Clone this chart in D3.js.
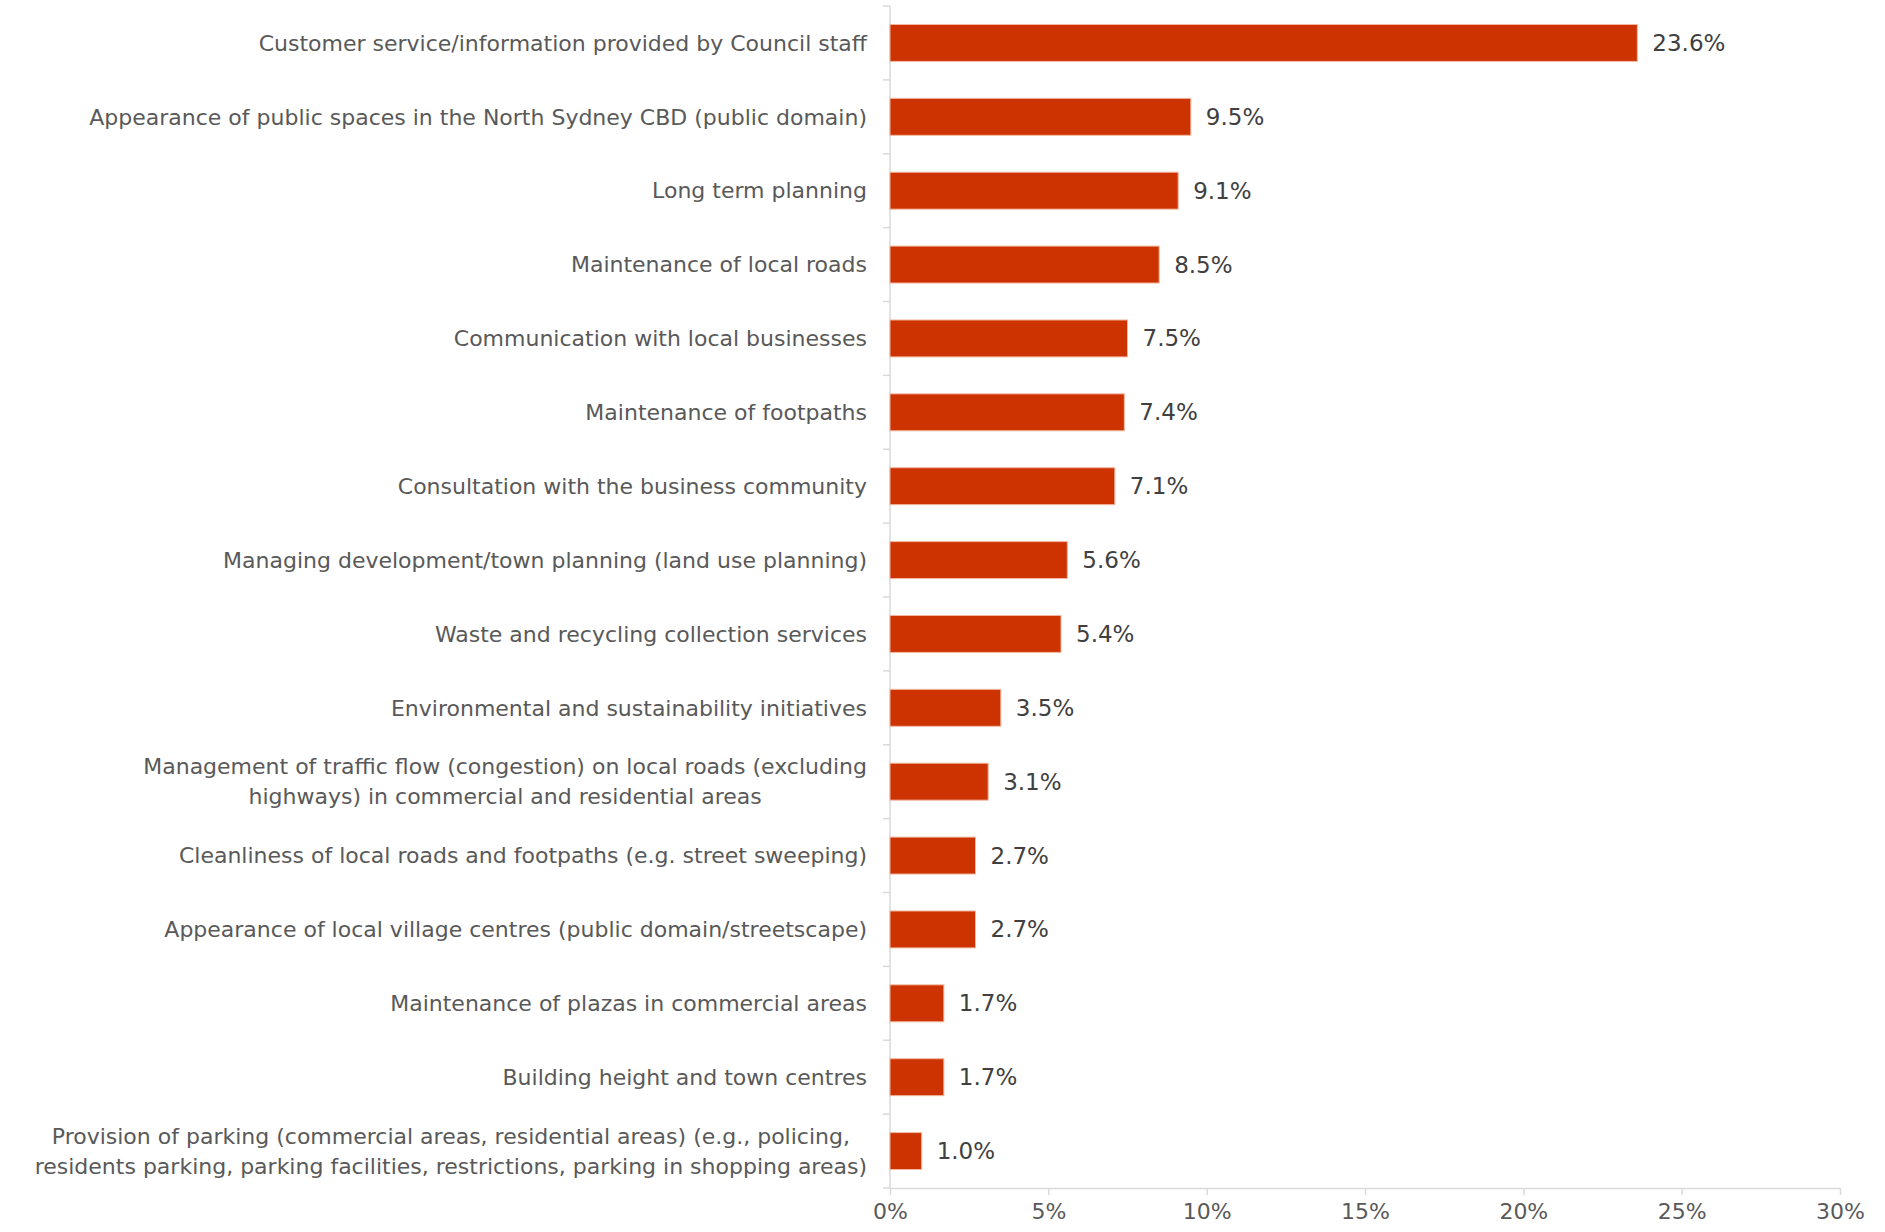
<!DOCTYPE html>
<html>
<head>
<meta charset="utf-8">
<script src="https://cdn.jsdelivr.net/npm/d3@7"></script>
<style>
  body { margin: 0; background: #fff; }
  text { font-family: "DejaVu Sans", sans-serif; }
</style>
</head>
<body>
<script>
const categories = [
    ["Customer service/information provided by Council staff"],
    ["Appearance of public spaces in the North Sydney CBD (public domain)"],
    ["Long term planning"],
    ["Maintenance of local roads"],
    ["Communication with local businesses"],
    ["Maintenance of footpaths"],
    ["Consultation with the business community"],
    ["Managing development/town planning (land use planning)"],
    ["Waste and recycling collection services"],
    ["Environmental and sustainability initiatives"],
    ["Management of traffic flow (congestion) on local roads (excluding", "highways) in commercial and residential areas"],
    ["Cleanliness of local roads and footpaths (e.g. street sweeping)"],
    ["Appearance of local village centres (public domain/streetscape)"],
    ["Maintenance of plazas in commercial areas"],
    ["Building height and town centres"],
    ["Provision of parking (commercial areas, residential areas) (e.g., policing,", "residents parking, parking facilities, restrictions, parking in shopping areas)"]
];
const values = [23.6, 9.5, 9.1, 8.5, 7.5, 7.4, 7.1, 5.6, 5.4, 3.5, 3.1, 2.7, 2.7, 1.7, 1.7, 1.0];
const xTicks = [0, 5, 10, 15, 20, 25, 30];

const margin = {top: 6, right: 45, bottom: 44, left: 890},
    width = 1885 - margin.left - margin.right,
    height = 1232 - margin.top - margin.bottom;

const data = values.map((v, i) => ({idx: i, lines: categories[i], value: v}));

let svg = d3.select("body")
    .append("svg")
    .attr("width", 1885)
    .attr("height", 1232)
    .append("g")
    .attr("transform", "translate(" + margin.left + "," + margin.top + ")");

let xScale = d3.scaleLinear().domain([0, 30]).range([0, width]);
let yScale = d3.scaleBand().domain(data.map(d => d.idx)).range([0, height]).paddingInner(0.5).paddingOuter(0.25);

const axisColor = "#d9d9d9";

// y axis: line plus ticks at band boundaries
svg.append("line")
    .attr("x1", 0).attr("x2", 0)
    .attr("y1", 0).attr("y2", height)
    .attr("stroke", axisColor).attr("stroke-width", 1.5);
const step = yScale.step();
d3.range(0, data.length + 1).forEach(i => {
    svg.append("line")
        .attr("x1", -7).attr("x2", 0)
        .attr("y1", i * step).attr("y2", i * step)
        .attr("stroke", axisColor).attr("stroke-width", 1.5);
});

// x axis
let xAxis = svg.append("g")
    .attr("transform", "translate(0," + height + ")")
    .call(d3.axisBottom(xScale).tickValues(xTicks).tickFormat(d => d + "%").tickSizeInner(7).tickSizeOuter(0).tickPadding(8));
xAxis.select(".domain").attr("stroke", axisColor).attr("stroke-width", 1.5);
xAxis.selectAll(".tick line").attr("stroke", axisColor).attr("stroke-width", 1.5);
xAxis.selectAll(".tick text")
    .attr("fill", "#595959")
    .style("font-size", "22px")
    .style("font-family", "'DejaVu Sans', sans-serif");

// bars
svg.selectAll(".bar")
    .data(data)
    .enter()
    .append("rect")
    .attr("class", "bar")
    .attr("x", 0)
    .attr("y", d => yScale(d.idx))
    .attr("width", d => xScale(d.value))
    .attr("height", yScale.bandwidth())
    .attr("fill", "#cc3300")
    .attr("stroke", "#f2b8a0")
    .attr("stroke-width", 1);

// value labels
svg.selectAll(".val")
    .data(data)
    .enter()
    .append("text")
    .attr("class", "val")
    .attr("x", d => xScale(d.value) + 15)
    .attr("y", d => yScale(d.idx) + yScale.bandwidth() / 2)
    .attr("dy", "0.35em")
    .attr("fill", "#404040")
    .style("font-size", "23px")
    .text(d => d.value.toFixed(1) + "%");

// category labels: block right-aligned, lines centred within block
const lineH = 30;
data.forEach(d => {
    let g = svg.append("g");
    let cy = yScale(d.idx) + yScale.bandwidth() / 2;
    let texts = d.lines.map((ln, j) => g.append("text")
        .attr("y", cy + (j - (d.lines.length - 1) / 2) * lineH)
        .attr("dy", "0.35em")
        .attr("fill", "#595959")
        .style("font-size", "22px")
        .text(ln));
    let widths = texts.map(t => t.node().getComputedTextLength());
    let maxW = d3.max(widths);
    texts.forEach((t, j) => {
        t.attr("x", -23 - maxW + (maxW - widths[j]) / 2);
    });
});
</script>
</body>
</html>
